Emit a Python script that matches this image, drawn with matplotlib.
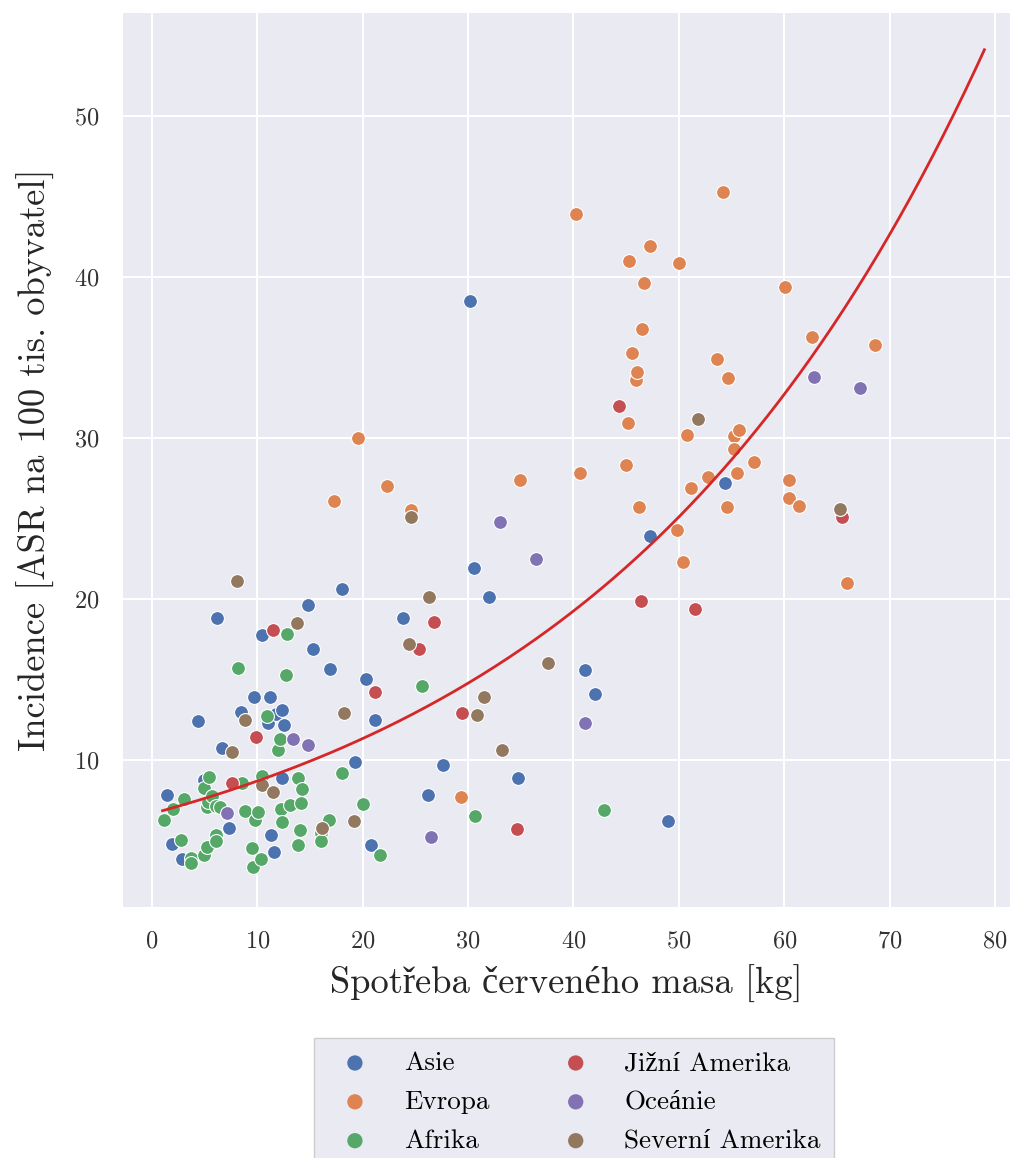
import numpy as np
import matplotlib
matplotlib.use("Agg")
import matplotlib.pyplot as plt

plt.rcParams['font.family'] = ['cmr10', 'Liberation Serif']
plt.rcParams['mathtext.fontset'] = 'cm'
plt.rcParams['axes.formatter.use_mathtext'] = True

groups = ['Asie', 'Evropa', 'Afrika', 'Jižní Amerika', 'Oceánie', 'Severní Amerika']
colors = ['#4C72B0', '#DD8452', '#55A868', '#C44E52', '#8172B3', '#937860']

asie = [(1.4, 7.8), (1.9, 4.8), (2.8, 3.85), (4.4, 12.4), (4.9, 8.75), (6.2, 18.8),
        (6.6, 10.75), (7.3, 5.8), (8.4, 13.0), (9.7, 13.9), (10.4, 17.75), (11.0, 12.3),
        (11.2, 13.9), (11.3, 5.35), (11.6, 4.3), (11.8, 12.85), (12.3, 13.1), (12.5, 12.2),
        (12.35, 8.9), (14.8, 19.6), (15.3, 16.9), (16.9, 15.65), (18.0, 20.6), (19.3, 9.9),
        (20.3, 15.0), (20.75, 4.7), (21.2, 12.5), (23.8, 18.8), (26.2, 7.8), (27.6, 9.7),
        (30.2, 38.5), (30.6, 21.9), (32.0, 20.1), (34.75, 8.9), (41.1, 15.6), (42.0, 14.1),
        (47.3, 23.9), (49.0, 6.2), (54.4, 27.2)]

evropa = [(17.3, 26.1), (19.55, 30.0), (22.3, 27.0), (24.6, 25.5), (29.3, 7.7), (34.9, 27.4),
          (40.2, 43.9), (40.6, 27.8), (45.0, 28.3), (45.2, 30.9), (45.25, 41.0), (45.6, 35.3),
          (45.9, 33.6), (46.0, 34.1), (46.2, 25.7), (46.5, 36.8), (46.7, 39.6), (47.3, 41.9),
          (49.8, 24.3), (50.0, 40.9), (50.4, 22.3), (50.8, 30.2), (51.2, 26.9), (52.8, 27.6),
          (53.6, 34.9), (54.2, 45.3), (54.6, 25.7), (54.65, 33.7), (55.2, 30.1), (55.2, 29.3),
          (55.5, 27.8), (55.7, 30.5), (57.1, 28.5), (60.1, 39.4), (60.5, 27.4), (60.5, 26.3),
          (61.4, 25.8), (62.6, 36.3), (66.0, 21.0), (68.6, 35.8)]

afrika = [(1.15, 6.3), (1.95, 6.95), (2.75, 5.0), (3.05, 7.6), (3.7, 3.9), (3.7, 3.6),
          (4.95, 8.25), (4.95, 4.1), (5.2, 7.1), (5.2, 4.6), (5.35, 7.4), (5.4, 8.95),
          (5.7, 7.75), (6.1, 7.15), (6.1, 5.35), (6.1, 4.95), (6.45, 7.05), (8.15, 15.7),
          (8.5, 8.55), (8.8, 6.8), (9.45, 4.55), (9.55, 3.35), (9.8, 6.3), (10.1, 6.75),
          (10.3, 3.85), (10.4, 9.0), (10.9, 12.7), (12.0, 10.6), (12.15, 11.3), (12.2, 6.95),
          (12.3, 6.15), (12.7, 15.3), (12.8, 17.8), (13.1, 7.2), (13.9, 8.85), (13.9, 4.7),
          (14.05, 5.65), (14.1, 7.35), (14.25, 8.2), (16.0, 5.45), (16.0, 4.95), (16.8, 6.3),
          (18.0, 9.2), (20.0, 7.25), (21.6, 4.1), (25.6, 14.6), (30.65, 6.5), (42.85, 6.9)]

jizni_amerika = [(7.55, 8.55), (9.85, 11.4), (11.5, 18.1), (21.2, 14.2), (25.3, 16.9),
                 (26.8, 18.6), (29.4, 12.9), (34.6, 5.7), (44.3, 32.0), (46.4, 19.9),
                 (51.5, 19.4), (65.5, 25.1)]

oceanie = [(7.15, 6.7), (13.35, 11.3), (14.8, 10.9), (26.5, 5.2), (33.0, 24.8), (36.4, 22.5),
           (41.1, 12.3), (62.8, 33.8), (67.2, 33.1)]

severni_amerika = [(7.55, 10.5), (8.1, 21.1), (8.85, 12.5), (10.4, 8.45), (11.5, 8.0),
                   (13.8, 18.5), (16.1, 5.75), (18.2, 12.9), (19.2, 6.2), (24.35, 17.2),
                   (24.6, 25.1), (26.3, 20.1), (30.8, 12.8), (31.5, 13.9), (33.2, 10.6),
                   (37.6, 16.0), (51.8, 31.2), (65.3, 25.6)]

data = [asie, evropa, afrika, jizni_amerika, oceanie, severni_amerika]

# exponential trend y = a * exp(b * x)
trend_a = 6.67
trend_b = 0.0265
trend_x = (1.0, 79.0)

fig = plt.figure(figsize=(10.11, 11.58), dpi=100)
ax = fig.add_axes([0.1217, 0.2168, 0.877, 0.772])
ax.set_facecolor('#EAEAF2')
for s in ax.spines.values():
    s.set_visible(False)
ax.grid(True, color='white', linewidth=1.5)
ax.set_axisbelow(True)

for name, col, pts in zip(groups, colors, data):
    pts = np.array(pts)
    ax.scatter(pts[:, 0], pts[:, 1], s=100, color=col, edgecolor='white',
               linewidth=0.8, label=name, zorder=3)

xs = np.linspace(trend_x[0], trend_x[1], 300)
ax.plot(xs, trend_a * np.exp(trend_b * xs), color='#d62728', linewidth=2, zorder=4)

ax.set_xlim(-2.75, 81.4)
ax.set_ylim(0.87, 56.4)
ax.set_xticks(np.arange(0, 81, 10))
ax.set_yticks([10, 20, 30, 40, 50])
ax.tick_params(axis='both', length=0, labelsize=17.5, colors='#333333', pad=17)
ax.set_xlabel('Spotřeba červeného masa [kg]', fontsize=26.3, color='#262626', labelpad=8.5)
ax.set_ylabel('Incidence [ASR na 100 tis. obyvatel]', fontsize=26.3, color='#262626', labelpad=14)

leg = ax.legend(loc='upper center', bbox_to_anchor=(0.509, -0.131), ncol=2, fontsize=19.5,
                frameon=True, facecolor='#EAEAF2', edgecolor='#cccccc', framealpha=1,
                markerscale=1.1, columnspacing=2.2, handletextpad=0.8, borderpad=0.5,
                labelspacing=0.55, fancybox=False, borderaxespad=0.5)
for h in leg.legend_handles:
    h.set_edgecolor('none')

fig.savefig('out.png', dpi=100)
